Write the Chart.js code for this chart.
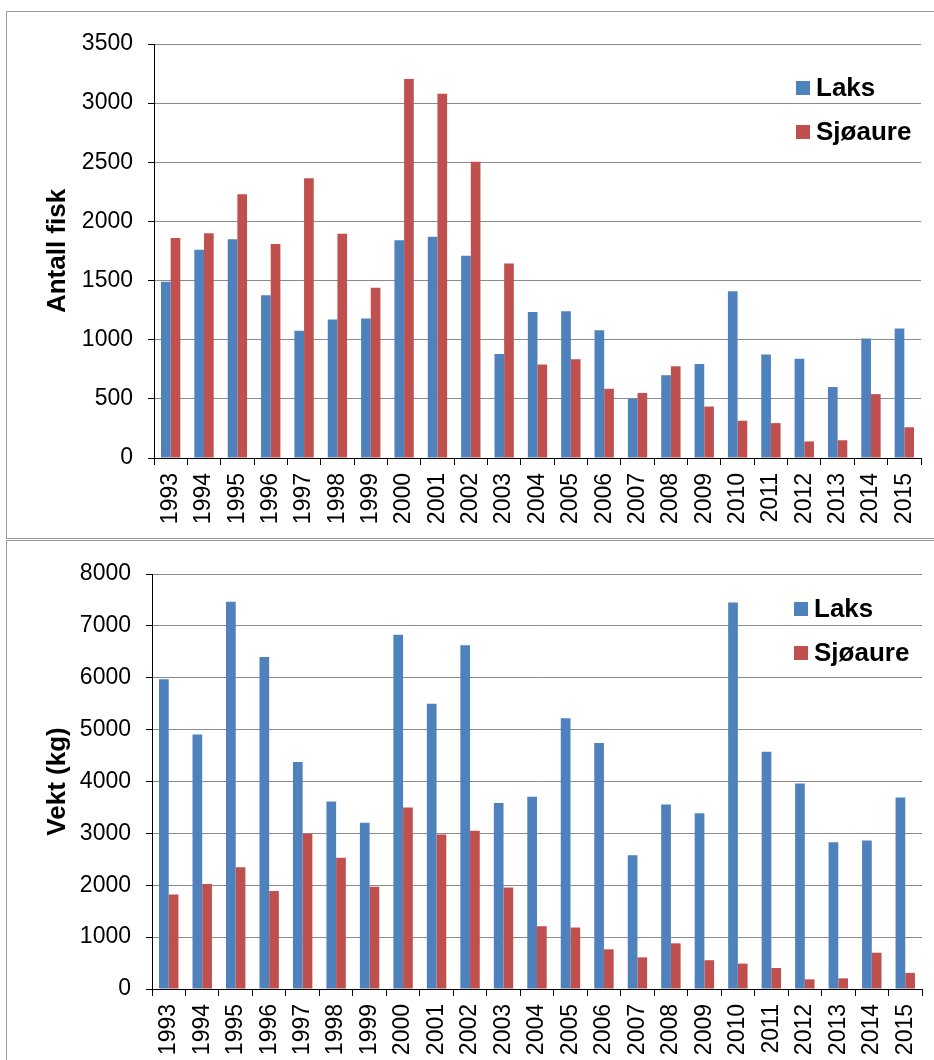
<!DOCTYPE html>
<html><head><meta charset="utf-8">
<script src="https://cdn.jsdelivr.net/npm/chart.js@4.4.1/dist/chart.umd.min.js"></script>
<style>
html,body{margin:0;padding:0;background:#fff;width:934px;height:1060px;overflow:hidden;position:relative}
.frame{position:absolute;border:1px solid #9a9a9a;box-sizing:border-box}
.wrap{position:absolute;left:0}
canvas{display:block}
</style></head><body>
<div class="frame" style="left:6px;top:11px;width:1000px;height:528px"></div>
<div class="frame" style="left:6px;top:540px;width:1000px;height:600px"></div>
<div class="wrap" style="top:0;width:934px;height:538px"><canvas id="c1" width="934" height="538"></canvas></div>
<div class="wrap" style="top:540px;width:934px;height:520px"><canvas id="c2" width="934" height="520"></canvas></div>
<script>
const years = ['1993','1994','1995','1996','1997','1998','1999','2000','2001','2002','2003','2004','2005','2006','2007','2008','2009','2010','2011','2012','2013','2014','2015'];
const seriesNames = ['Laks','Sjøaure'];
const antallLaks    = [1490,1760,1850,1375,1075,1170,1180,1840,1870,1710,880,1235,1240,1080,500,700,795,1410,875,840,600,1010,1095];
const antallSjoaure = [1860,1900,2230,1810,2365,1895,1440,3205,3080,2505,1645,790,835,585,550,775,435,315,295,140,150,540,260];
const vektLaks      = [5970,4905,7465,6400,4375,3615,3205,6830,5500,6625,3585,3705,5220,4740,2580,3555,3390,7450,4575,3960,2830,2865,3690];
const vektSjoaure   = [1820,2025,2345,1890,2995,2530,1970,3500,2980,3050,1955,1210,1185,765,610,880,555,490,405,185,205,700,310];
const topAxis = {title:'Antall fisk', max:3500, step:500};
const bottomAxis = {title:'Vekt (kg)', max:8000, step:1000};

const FONT = '"Liberation Sans", Arial, sans-serif';
const BLUE = '#4F81BD', RED = '#C0504D';

const fixedLegend = {
  id:'fixedLegend',
  afterDraw(chart, args, opts){
    const ctx = chart.ctx;
    ctx.save();
    chart.data.datasets.forEach((ds,i)=>{
      const by = opts.y + i*opts.gap;
      ctx.fillStyle = ds.backgroundColor;
      ctx.fillRect(opts.x, by-14, 14, 14);
      ctx.fillStyle = '#000';
      ctx.font = 'bold 26px ' + FONT;
      ctx.textBaseline = 'alphabetic';
      ctx.textAlign = 'left';
      ctx.fillText(ds.label, opts.x+20, by+1);
    });
    ctx.restore();
  }
};

function makeChart(id, axis, laks, sjo, geom){
  new Chart(document.getElementById(id), {
    type:'bar',
    data:{
      labels: years,
      datasets:[
        {label:seriesNames[0], data:laks, backgroundColor:BLUE, borderWidth:0, barPercentage:1, categoryPercentage:0.58},
        {label:seriesNames[1], data:sjo, backgroundColor:RED, borderWidth:0, barPercentage:1, categoryPercentage:0.58}
      ]
    },
    plugins:[fixedLegend],
    options:{
      responsive:false,
      animation:false,
      events:[],
      layout:{padding:{left:42, top:geom.top, right:geom.right, bottom:0}},
      plugins:{
        legend:{display:false},
        tooltip:{enabled:false},
        fixedLegend:{x:geom.legX, y:geom.legY, gap:44}
      },
      scales:{
        x:{
          grid:{offset:true, drawOnChartArea:false, drawTicks:true, tickLength:7, tickColor:'#000', color:'#000', lineWidth:1},
          border:{color:'#000', width:1},
          ticks:{color:'#000', font:{family:FONT, size:23}, minRotation:90, maxRotation:90, padding:8, autoSkip:false},
          afterFit(s){ s.height = geom.xh; s.paddingLeft = 0; s.paddingRight = 0; }
        },
        y:{
          min:0, max:axis.max,
          ticks:{stepSize:axis.step, color:'#000', font:{family:FONT, size:23}, padding:15, callback:(v)=>String(v)},
          grid:{color:'#8a8a8a', lineWidth:1, tickColor:'#000', tickLength:6, drawTicks:true},
          border:{color:'#000', width:1},
          title:{display:true, text:axis.title, color:'#000', font:{family:FONT, size:26, weight:'bold'}, padding:{top:0,bottom:0}},
          afterFit(s){ s.width = geom.yw; s.paddingTop = 0; s.paddingBottom = 0; }
        }
      }
    }
  });
}

makeChart('c1', topAxis, antallLaks, antallSjoaure, {top:44, right:13, xh:80, yw:112, legX:796, legY:95});
makeChart('c2', bottomAxis, vektLaks, vektSjoaure, {top:34, right:12, xh:71, yw:110, legX:794, legY:76});
</script>
</body></html>
